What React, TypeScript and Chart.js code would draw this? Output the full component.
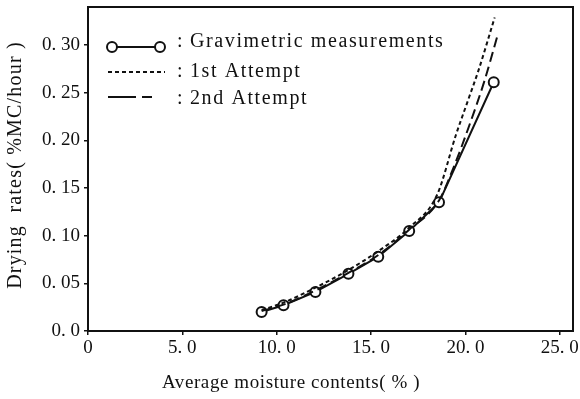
import React, { useEffect, useRef } from "react";
import { Chart, registerables } from "chart.js";

Chart.register(...registerables);

// Measured (gravimetric) points
const moisture = [9.2, 10.36, 12.05, 13.8, 15.38, 17.02, 18.6, 21.5];
const gravimetric = [0.02, 0.027, 0.041, 0.06, 0.078, 0.105, 0.135, 0.261];

// 1st attempt (dotted)
const attempt1X = [9.2, 10.4, 12.0, 13.8, 15.4, 17.0, 18.5, 19.5, 20.1, 20.7, 21.55];
const attempt1Y = [0.022, 0.03, 0.045, 0.064, 0.084, 0.108, 0.143, 0.206, 0.24, 0.274, 0.329];

// 2nd attempt (dashed)
const attempt2X = [9.2, 10.4, 12.0, 13.8, 15.4, 17.0, 18.6, 19.3, 20.3, 21.0, 21.7];
const attempt2Y = [0.021, 0.028, 0.042, 0.061, 0.08, 0.106, 0.137, 0.168, 0.221, 0.262, 0.31];

const xTicks = [0, 5, 10, 15, 20, 25];
const xTickLabels = ["0", "5. 0", "10. 0", "15. 0", "20. 0", "25. 0"];
const yTicks = [0, 0.05, 0.1, 0.15, 0.2, 0.25, 0.3];
const yTickLabels = ["0. 0", "0. 05", "0. 10", "0. 15", "0. 20", "0. 25", "0. 30"];

const legendLabels = ["Gravimetric measurements", "1st Attempt", "2nd Attempt"];
const xTitle = "Average moisture contents( % )";
const yTitle = "Drying  rates( %MC/hour )";

const SERIF = "'Liberation Serif', 'DejaVu Serif', serif";

const toXY = (xs: number[], ys: number[]) => xs.map((x, i) => ({ x, y: ys[i] }));

const zeroPadding = (scale: any) => {
  scale.paddingTop = 0;
  scale.paddingBottom = 0;
  scale.paddingLeft = 0;
  scale.paddingRight = 0;
};

export default function App() {
  const ref = useRef<HTMLCanvasElement | null>(null);

  useEffect(() => {
    if (!ref.current) return;

    const framePlugin = {
      id: "frameAndLegend",
      afterDatasetsDraw(chart: any) {
        const { ctx, chartArea } = chart;
        ctx.save();
        ctx.strokeStyle = "#111";
        ctx.lineWidth = 2;
        ctx.setLineDash([]);
        ctx.strokeRect(chartArea.left, chartArea.top, chartArea.right - chartArea.left, chartArea.bottom - chartArea.top);

        // legend
        const lx = chartArea.left;
        const ly = chartArea.top;
        const rows = [ly + 40, ly + 65, ly + 90];
        const baselines = [ly + 40, ly + 70, ly + 97];
        ctx.lineWidth = 2;
        // row 1: solid with circles
        ctx.beginPath();
        ctx.moveTo(lx + 24, rows[0]);
        ctx.lineTo(lx + 72, rows[0]);
        ctx.stroke();
        [lx + 24, lx + 72].forEach((cx) => {
          ctx.beginPath();
          ctx.arc(cx, rows[0], 5, 0, Math.PI * 2);
          ctx.fillStyle = "#fff";
          ctx.fill();
          ctx.stroke();
        });
        // row 2: dotted
        ctx.setLineDash([4, 3]);
        ctx.beginPath();
        ctx.moveTo(lx + 20, rows[1]);
        ctx.lineTo(lx + 77, rows[1]);
        ctx.stroke();
        // row 3: dashed
        ctx.setLineDash([28, 6, 10, 100]);
        ctx.beginPath();
        ctx.moveTo(lx + 20, rows[2]);
        ctx.lineTo(lx + 66, rows[2]);
        ctx.stroke();
        ctx.setLineDash([]);

        ctx.fillStyle = "#111";
        ctx.font = `20px ${SERIF}`;
        ctx.textBaseline = "alphabetic";
        ctx.textAlign = "left";
        legendLabels.forEach((t, i) => {
          ctx.letterSpacing = "0px";
          ctx.fillText(":", lx + 89, baselines[i]);
          ctx.letterSpacing = "1.6px";
          ctx.fillText(t, lx + 102, baselines[i]);
        });

        // axis titles
        ctx.font = `19px ${SERIF}`;
        ctx.letterSpacing = "0.6px";
        ctx.textAlign = "center";
        ctx.textBaseline = "middle";
        ctx.fillText(xTitle, 291, 383);

        ctx.translate(16, 165);
        ctx.rotate(-Math.PI / 2);
        ctx.font = `20px ${SERIF}`;
        ctx.letterSpacing = "1.2px";
        ctx.fillText(yTitle, 0, 0);
        ctx.letterSpacing = "0px";
        ctx.restore();
      },
    };

    const chart = new Chart(ref.current, {
      type: "scatter",
      data: {
        datasets: [
          {
            label: "1st Attempt",
            data: toXY(attempt1X, attempt1Y),
            showLine: true,
            borderColor: "#111",
            borderWidth: 2,
            borderDash: [4, 3],
            pointRadius: 0,
            cubicInterpolationMode: "monotone",
          },
          {
            label: "2nd Attempt",
            data: toXY(attempt2X, attempt2Y),
            showLine: true,
            borderColor: "#111",
            borderWidth: 2,
            borderDash: [10, 5],
            pointRadius: 0,
            cubicInterpolationMode: "monotone",
          },
          {
            label: "Gravimetric measurements",
            data: toXY(moisture, gravimetric),
            showLine: true,
            borderColor: "#111",
            borderWidth: 2,
            pointRadius: 5,
            pointBorderWidth: 2,
            pointBackgroundColor: "#fff",
            pointBorderColor: "#111",
            tension: 0,
          },
        ],
      },
      options: {
        animation: false,
        responsive: false,
        events: [],
        layout: { padding: { top: 7, right: 6, left: 0, bottom: 0 } },
        plugins: {
          legend: { display: false },
          tooltip: { enabled: false },
        },
        scales: {
          x: {
            type: "linear",
            min: 0,
            max: 25.7,
            border: { display: false },
            grid: { drawOnChartArea: false, drawTicks: true, tickLength: 4, color: "#111", lineWidth: 1.5 },
            afterBuildTicks: (scale: any) => {
              scale.ticks = xTicks.map((v) => ({ value: v }));
            },
            afterFit: (scale: any) => {
              scale.height = 68;
              zeroPadding(scale);
            },
            ticks: {
              color: "#111",
              font: { family: SERIF, size: 19 },
              padding: 2,
              maxRotation: 0,
              autoSkip: false,
              callback: (v: any) => {
                const i = xTicks.indexOf(Number(v));
                return i >= 0 ? xTickLabels[i] : "";
              },
            },
            title: { display: false },
          },
          y: {
            type: "linear",
            min: 0,
            max: 0.34,
            border: { display: false },
            grid: { drawOnChartArea: false, drawTicks: true, tickLength: 4, color: "#111", lineWidth: 1.5 },
            afterBuildTicks: (scale: any) => {
              scale.ticks = yTicks.map((v) => ({ value: v }));
            },
            afterFit: (scale: any) => {
              scale.width = 88;
              zeroPadding(scale);
            },
            ticks: {
              color: "#111",
              font: { family: SERIF, size: 19 },
              padding: 4,
              autoSkip: false,
              callback: (v: any) => {
                const i = yTicks.findIndex((t) => Math.abs(t - Number(v)) < 1e-9);
                return i >= 0 ? yTickLabels[i] : "";
              },
            },
            title: { display: false },
          },
        },
      },
      plugins: [framePlugin],
    } as any);

    return () => chart.destroy();
  }, []);

  return (
    <div style={{ position: "absolute", left: 0, top: 0, width: 580, height: 399, background: "#fff" }}>
      <canvas ref={ref} width={580} height={399} style={{ display: "block", width: 580, height: 399 }} />
    </div>
  );
}
